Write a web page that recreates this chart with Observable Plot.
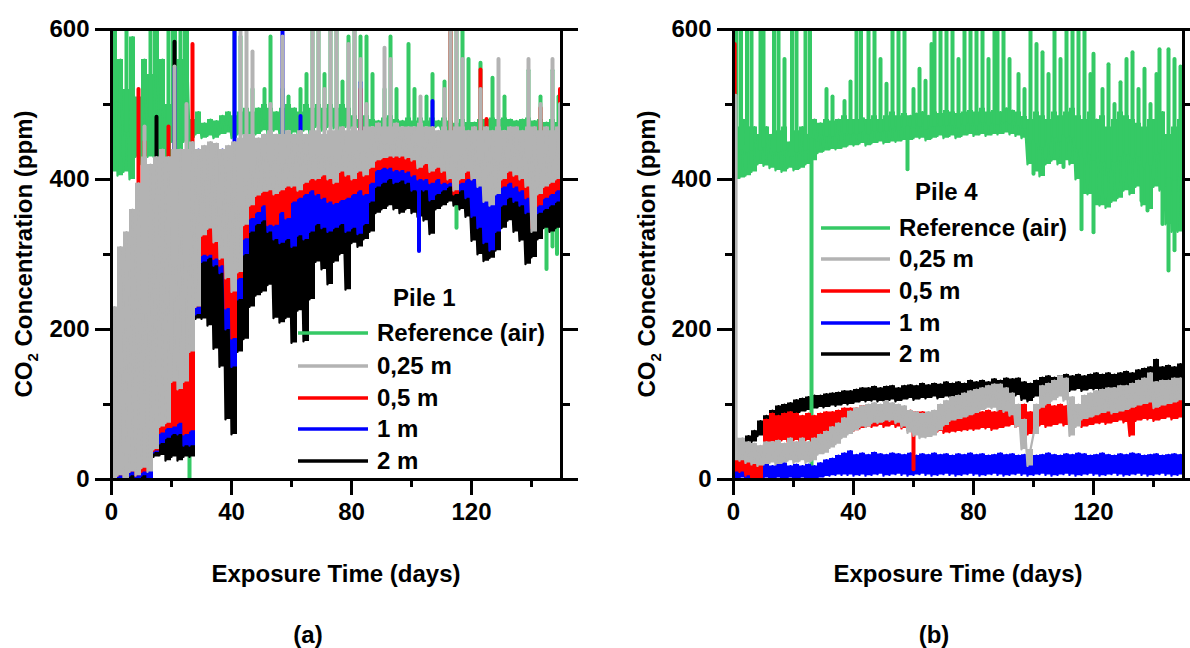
<!DOCTYPE html>
<html>
<head>
<meta charset="utf-8">
<script src="https://cdn.jsdelivr.net/npm/d3@7"></script>
<script src="https://cdn.jsdelivr.net/npm/@observablehq/plot@0.6"></script>
<style>
  body { margin: 0; background: #fff; }
  #wrap { position: relative; width: 1190px; height: 648px; overflow: hidden; background: #fff; }
  #wrap svg { position: absolute; top: 0; }
</style>
</head>
<body>
<div id="wrap"></div>
<script>
// ---------- shared ----------
const days = [
  0, 2, 4, 6, 8, 10, 12, 14, 16, 18,
  20, 22, 24, 26, 28, 30, 32, 34, 36, 38,
  40, 42, 44, 46, 48, 50, 52, 54, 56, 58,
  60, 62, 64, 66, 68, 70, 72, 74, 76, 78,
  80, 82, 84, 86, 88, 90, 92, 94, 96, 98,
  100, 102, 104, 106, 108, 110, 112, 114, 116, 118,
  120, 122, 124, 126, 128, 130, 132, 134, 136, 138,
  140, 142, 144, 146, 148, 150
];
const seriesNames = ["Reference (air)", "0,25 m", "0,5 m", "1 m", "2 m"];
const seriesColors = ["#35C965", "#B3B3B3", "#FF0000", "#0000FF", "#000000"];
const xMajor = [0, 40, 80, 120];
const xMinor = [20, 60, 100, 140];
const yMajor = [0, 200, 400, 600];
const yMinor = [100, 300, 500];

// ===== Pile 1 (a): band bottom / band top every 2 days, plus single spikes [day, ppm] =====
const refA_lo = [
  410,405,410,400,430,420,430,430,440,430,
  450,440,450,455,460,455,458,455,460,462,
  455,460,460,455,460,465,460,465,460,465,
  462,460,465,460,470,465,470,468,465,470,
  468,470,465,470,468,470,470,465,470,468,
  470,465,470,468,470,465,460,455,455,455,
  455,455,455,460,460,465,462,465,462,460,
  455,450,450,450,450,455];
const refA_hi = [
  600,560,520,590,510,560,540,600,560,500,
  600,560,600,480,490,475,480,478,485,490,
  485,490,495,490,495,500,495,490,495,500,
  495,490,500,495,500,495,500,495,500,495,
  485,480,485,480,478,482,485,480,478,482,
  478,482,478,482,478,482,478,475,480,476,
  476,480,480,482,480,482,480,478,480,482,
  478,480,476,480,476,478];
const refA_spk = [
  [1,600],[5,600],[13,600],[19,600],[23,600],[26,0],[41,600],[43,590],[47,520],[51,520],
  [53,590],[57,520],[59,510],[63,520],[65,540],[67,600],[69,600],[71,540],[73,600],[75,600],
  [77,530],[79,590],[81,600],[83,590],[85,590],[87,540],[91,520],[93,590],[95,520],[99,580],
  [101,520],[105,510],[107,540],[111,530],[113,600],[115,600],[115,335],[117,600],[119,560],[119,360],
  [121,350],[123,555],[123,360],[127,535],[131,510],[139,545],[143,510],[145,280],[147,545],[147,310],
  [148.5,300],[149,510]];

const m025A_lo = [
  0,5,0,10,5,15,10,40,70,75,
  130,120,130,170,230,325,334,316,294,268,
  250,276,339,365,378,383,385,380,385,390,
  390,385,395,400,400,405,400,395,410,405,
  400,410,405,415,425,428,430,430,430,428,
  425,415,420,410,415,410,400,385,400,410,
  400,390,370,365,380,400,410,405,400,390,
  330,380,390,395,400,410];
const m025A_hi = [
  230,310,330,360,395,430,420,430,440,430,
  440,440,440,450,440,445,450,448,440,445,
  450,455,460,460,455,460,465,460,460,465,
  460,465,460,465,465,460,465,465,470,465,
  470,465,470,470,475,470,470,475,470,470,
  470,475,470,470,465,470,465,470,470,465,
  470,465,470,465,470,465,470,470,465,470,
  470,465,470,465,470,470];
const m025A_spk = [
  [11,470],[21,550],[25,500],[43,600],[45,600],[47,570],[53,500],[57,590],[67,600],[69,600],
  [71,520],[73,600],[75,600],[79,580],[81,600],[83,560],[85,500],[91,575],[93,560],[103,510],
  [111,520],[113,600],[115,600],[117,560],[123,520],[129,560],[139,560],[143,500],[147,560],[149.5,500]];

const m05A_lo = [
  0,5,5,10,5,10,20,38,62,68,
  70,75,60,65,230,299,299,294,285,228,
  188,268,321,348,356,365,339,339,356,348,
  370,375,380,385,380,375,370,368,372,375,
  380,385,380,395,412,415,415,412,412,410,
  405,400,400,395,400,395,395,380,395,400,
  400,395,380,375,385,390,395,390,385,375,
  335,365,375,380,385,390];
const m05A_hi = [
  140,150,200,200,200,300,300,400,400,400,
  420,410,420,420,430,420,425,420,415,410,
  420,430,435,440,440,440,440,440,440,445,
  440,445,440,450,445,450,450,450,455,450,
  455,455,455,460,460,465,460,465,460,460,
  460,455,455,455,455,460,455,450,455,450,
  455,455,455,460,455,455,455,450,455,455,
  455,455,455,455,460,460];
const m05A_spk = [
  [5,320],[9,520],[11,450],[19,470],[27,580],[83,520],[113,596],[123,546],[125,480],[143,495],[149.5,520]];

const m1A_lo = [
  0,0,0,5,0,5,0,36,48,55,
  60,60,45,45,220,290,295,285,275,200,
  150,240,300,330,340,345,330,320,315,320,
  310,325,320,330,340,335,330,335,340,330,
  335,327,340,370,390,395,400,395,398,395,
  385,385,385,372,380,385,390,385,385,375,
  350,335,315,305,330,365,375,370,365,355,
  345,355,360,365,370,380];
const m1A_hi = [
  100,130,150,180,200,220,210,400,380,420,
  430,430,430,420,440,430,425,420,440,420,
  430,430,430,430,425,430,425,430,430,430,
  430,430,430,440,440,440,445,440,445,440,
  445,445,445,450,450,455,455,450,455,450,
  450,450,445,445,445,445,450,445,450,445,
  445,440,440,440,440,445,440,445,440,445,
  440,440,445,440,445,450];
const m1A_spk = [
  [11,400],[21,548],[41,598],[57,598],[63,484],[83,529],[102.5,304],[107,504]];

const m2A_lo = [
  0,0,0,0,0,0,0,30,32,25,
  30,25,30,30,214,214,205,174,150,80,
  60,170,187,230,245,250,259,215,209,215,
  182,225,184,240,290,280,260,290,300,253,
  315,310,320,330,355,360,365,360,355,360,
  355,350,345,327,360,365,370,365,360,350,
  318,300,291,295,305,335,345,330,318,287,
  296,320,335,330,335,345];
const m2A_hi = [
  60,40,20,30,20,40,30,330,330,380,
  400,400,380,390,400,400,400,390,380,380,
  380,400,400,390,400,400,390,380,390,390,
  380,380,380,390,390,400,400,395,400,390,
  395,400,405,410,420,420,420,425,420,420,
  415,415,410,410,415,415,420,420,415,410,
  400,400,395,400,400,405,410,400,400,395,
  395,400,400,395,400,405];
const m2A_spk = [[15,483],[21,583]];

// ===== Pile 4 (b) =====
const refB_lo = [
  400,402,405,410,420,418,415,412,410,415,
  412,415,420,425,435,438,440,440,442,445,
  445,448,445,448,450,448,450,450,452,452,
  455,455,452,455,458,455,458,455,458,460,
  458,460,458,460,460,462,460,458,455,420,
  410,404,420,425,420,425,420,400,380,380,
  365,365,362,370,375,385,380,390,365,360,
  390,385,340,330,330,420];
const refB_hi = [
  470,480,470,470,460,470,460,465,470,450,
  465,470,460,480,475,480,478,480,485,480,
  480,482,480,485,480,485,490,485,488,485,
  488,490,485,490,488,492,490,488,490,492,
  490,495,490,492,490,495,492,490,484,480,
  490,485,480,490,485,490,495,485,480,490,
  480,485,470,480,490,485,480,475,470,480,
  480,490,460,470,480,480];
const refB_spk = [
  [1,600],[2.5,600],[4.5,600],[6,600],[9,600],[10,600],[13.5,600],[15,600],[17,560],[19.5,600],
  [21,600],[24,600],[25.5,600],[26,0],[31,520],[33,510],[37,504],[39,530],[41,600],[42.5,600],
  [45,600],[47,600],[49,560],[51,527],[53,600],[55,600],[57,600],[58,413],[60,520],[62,547],
  [64,531],[66,580],[67,600],[69,600],[71,600],[73,600],[75,560],[77,600],[79,600],[81,600],
  [83,600],[85,560],[87,600],[88,600],[90,600],[92,560],[95,540],[97,520],[99,600],[100,407],
  [101,580],[103,569],[105,540],[107,600],[109,560],[110,416],[111,600],[113,600],[115,600],[116,333],
  [117,600],[119,540],[120,567],[120,329],[123,520],[125,553],[127,500],[129,529],[131,560],[133,569],
  [135,520],[136,371],[137,547],[138,358],[139,500],[141,540],[142,573],[143,340],[145,573],[145,278],
  [147,305],[147,560],[149,550]];

const m025B_lo = [
  25,25,22,20,18,20,22,20,22,25,
  22,25,22,25,33,35,42,47,55,60,
  65,70,70,75,75,78,78,75,70,62,
  58,55,56,58,65,72,78,80,82,85,
  88,92,95,95,92,90,85,70,40,18,
  60,95,100,105,110,105,58,70,80,82,
  85,88,90,88,90,92,95,98,100,102,
  95,98,100,102,105,108];
const m025B_hi = [
  55,55,50,48,45,50,50,52,48,55,
  50,55,50,55,60,64,70,75,82,91,
  95,98,100,102,100,104,102,100,98,92,
  90,88,90,92,100,105,110,112,115,118,
  120,122,125,127,127,122,115,100,80,40,
  100,125,128,132,138,135,110,100,112,115,
  118,120,122,122,125,125,128,132,135,142,
  130,132,132,135,135,138];
const m025B_spk = [[0.7,511]];

const m05B_lo = [
  10,10,5,0,0,40,50,50,52,50,
  52,50,52,48,50,52,55,58,60,62,
  65,68,70,70,72,70,72,70,68,66,
  64,64,62,62,64,62,63,64,65,66,
  66,68,68,66,68,70,72,70,65,60,
  70,72,70,72,74,72,70,72,70,72,
  74,75,74,76,78,76,58,78,80,80,
  78,80,82,80,82,84];
const m05B_hi = [
  35,35,30,28,25,80,88,85,88,90,
  88,85,88,85,88,90,90,92,95,95,
  95,98,98,96,98,96,98,96,95,92,
  90,90,88,88,90,85,88,86,88,90,
  88,90,92,90,92,95,96,95,100,90,
  95,98,100,98,100,98,96,98,95,98,
  98,100,98,100,102,100,98,102,104,104,
  102,105,106,104,106,108];
const m05B_spk = [[0.4,580],[60,13]];

const m1B_lo = [
  0,2,0,2,0,2,0,2,0,2,
  0,2,0,0,2,4,5,6,6,6,
  5,6,5,6,7,5,6,7,6,5,
  6,7,6,5,6,7,6,5,6,7,
  6,5,6,7,6,5,6,7,6,5,
  6,7,6,5,6,7,6,5,6,7,
  6,5,6,7,6,5,6,7,6,5,
  6,7,6,5,6,7];
const m1B_hi = [
  20,20,22,18,20,22,18,20,22,18,
  20,18,20,18,22,26,28,32,35,38,
  33,35,33,36,34,33,35,34,33,35,
  32,34,33,35,33,34,32,34,33,35,
  33,34,32,33,35,33,34,32,33,34,
  32,33,35,33,32,34,33,35,34,32,
  33,35,33,32,34,33,35,34,32,33,
  34,32,33,34,33,32];
const m1B_spk = [[0.2,433]];

const m2B_lo = [
  30,30,40,50,58,62,70,78,82,85,
  88,90,92,94,96,96,98,98,100,100,
  102,104,104,105,104,105,106,104,106,108,
  106,108,108,110,108,110,110,112,110,112,
  112,114,112,114,115,116,114,112,106,104,
  110,116,118,118,118,120,118,120,118,120,
  120,118,120,122,120,122,122,124,126,128,
  130,128,130,130,132,130];
const m2B_hi = [
  50,50,58,65,78,85,92,98,100,102,
  106,108,110,112,112,114,115,116,118,118,
  120,122,122,124,122,124,125,122,125,126,
  125,128,126,128,127,130,128,130,128,132,
  130,132,130,134,132,135,134,135,130,128,
  132,136,138,136,138,140,138,140,138,140,
  142,140,142,140,142,144,142,146,148,150,
  160,150,152,150,154,152];
const m2B_spk = [];

const FONT = '"Liberation Sans", Arial, Helvetica, sans-serif';

function bandRows(lo, hi) {
  return days.map((d, i) => ({t: d, lo: lo[i], hi: hi[i]}));
}
function zigzag(lo, hi) {
  const pts = [];
  days.forEach((d, i) => {
    pts.push({t: d, v: lo[i]});
    pts.push({t: d + 1, v: hi[i]});
  });
  return pts;
}
function spikeRows(spk, lo, hi) {
  return spk.map(([t, v]) => {
    const i = Math.min(days.length - 1, Math.floor(t / 2));
    return {t, v, base: (lo[i] + hi[i]) / 2};
  });
}

function makePanel(cfg) {
  const marks = [];
  for (const k of cfg.order) {
    const [lo, hi, spk] = cfg.series[k];
    const c = seriesColors[k];
    marks.push(
      Plot.areaY(bandRows(lo, hi), {x: "t", y1: "lo", y2: "hi", fill: c, curve: "step-after", clip: true}),
      Plot.line(zigzag(lo, hi), {x: "t", y: "v", stroke: c, strokeWidth: 2.2, strokeLinejoin: "round", clip: true}),
      Plot.ruleX(spikeRows(spk, lo, hi), {x: "t", y1: "v", y2: "base", stroke: c, strokeWidth: 4, strokeLinecap: "round", clip: true})
    );
  }
  marks.push(
    Plot.axisX({ticks: xMajor, tickSize: 16, tickPadding: 7, strokeWidth: 3, label: null, tickFormat: d => String(d)}),
    Plot.axisX({ticks: xMinor, tickSize: 8, strokeWidth: 3, label: null, tickFormat: () => ""}),
    Plot.axisY({ticks: yMajor, tickSize: 16, tickPadding: 6, strokeWidth: 3, label: null, tickFormat: d => String(d)}),
    Plot.axisY({ticks: yMinor, tickSize: 8, strokeWidth: 3, label: null, tickFormat: () => ""}),
    Plot.axisY({anchor: "right", ticks: yMajor, tickSize: 16, strokeWidth: 3, label: null, tickFormat: () => ""}),
    Plot.axisY({anchor: "right", ticks: yMinor, tickSize: 8, strokeWidth: 3, label: null, tickFormat: () => ""}),
    Plot.frame({stroke: "black", strokeWidth: 3})
  );
  const svg = Plot.plot({
    width: cfg.width, height: 648,
    marginLeft: cfg.ml, marginRight: cfg.mr, marginTop: 29, marginBottom: 169,
    x: {domain: [0, 150]},
    y: {domain: [0, 600]},
    style: {fontFamily: FONT, fontSize: "24px", fontWeight: "bold", color: "black", background: "transparent", overflow: "visible"},
    marks
  });
  svg.style.left = cfg.left + "px";
  const g = d3.select(svg);

  const txt = (sel) => sel.style("font-family", FONT).style("font-size", "24px")
    .style("font-weight", "bold").attr("fill", "black");

  // y label with subscript
  const yl = txt(g.append("text"))
    .attr("transform", `translate(${cfg.ylx},254) rotate(-90)`)
    .attr("text-anchor", "middle").attr("dy", "0.35em");
  yl.append("tspan").text("CO");
  yl.append("tspan").attr("font-size", "15px").attr("dy", 6).text("2");
  yl.append("tspan").attr("dy", -6).text(" Concentration (ppm)");

  // x label
  txt(g.append("text")).attr("x", cfg.xlx).attr("y", 574).attr("dy", "0.35em")
    .attr("text-anchor", "middle").text("Exposure Time (days)");

  // panel tag
  txt(g.append("text")).attr("x", cfg.tagx).attr("y", 643)
    .attr("text-anchor", "middle").text(cfg.tag);

  // legend
  const lg = g.append("g");
  txt(lg.append("text")).attr("x", cfg.leg.titleX).attr("y", cfg.leg.titleY).attr("dy", "0.35em")
    .attr("text-anchor", "start").text(cfg.leg.title);
  seriesNames.forEach((name, i) => {
    const y = cfg.leg.rows[i];
    lg.append("line").attr("x1", cfg.leg.x1).attr("x2", cfg.leg.x2).attr("y1", y).attr("y2", y)
      .attr("stroke", seriesColors[i]).attr("stroke-width", 3.5);
    txt(lg.append("text")).attr("x", cfg.leg.tx).attr("y", y).attr("dy", "0.35em")
      .attr("text-anchor", "start").text(name);
  });
  return svg;
}

const wrap = document.getElementById("wrap");

wrap.appendChild(makePanel({
  left: 0, width: 620, ml: 111, mr: 59,
  series: [
    [refA_lo, refA_hi, refA_spk], [m025A_lo, m025A_hi, m025A_spk], [m05A_lo, m05A_hi, m05A_spk],
    [m1A_lo, m1A_hi, m1A_spk], [m2A_lo, m2A_hi, m2A_spk]],
  order: [0, 4, 3, 2, 1],
  ylx: 24, xlx: 336, tagx: 308, tag: "(a)",
  leg: {title: "Pile 1", titleX: 393, titleY: 298, x1: 298, x2: 368, tx: 377, rows: [333, 366, 398, 429, 461]}
}));

wrap.appendChild(makePanel({
  left: 620, width: 570, ml: 113, mr: 7,
  series: [
    [refB_lo, refB_hi, refB_spk], [m025B_lo, m025B_hi, m025B_spk], [m05B_lo, m05B_hi, m05B_spk],
    [m1B_lo, m1B_hi, m1B_spk], [m2B_lo, m2B_hi, m2B_spk]],
  order: [4, 0, 3, 2, 1],
  ylx: 27, xlx: 338, tagx: 314, tag: "(b)",
  leg: {title: "Pile 4", titleX: 295, titleY: 192, x1: 201, x2: 270, tx: 279, rows: [228, 259, 291, 323, 354]}
}));
</script>
</body>
</html>
